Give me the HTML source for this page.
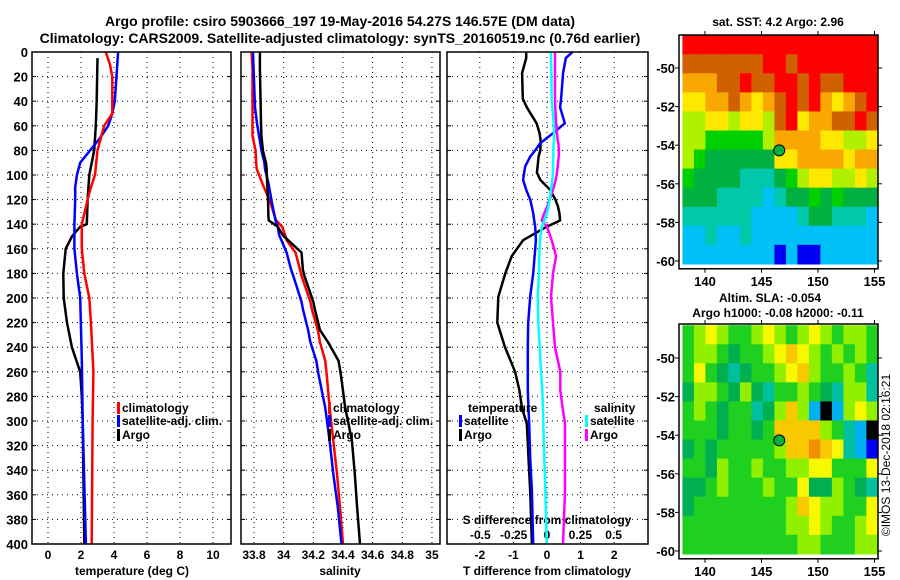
<!DOCTYPE html>
<html><head><meta charset="utf-8"><style>
html,body{margin:0;padding:0;background:#fff;}
svg{display:block;font-family:"Liberation Sans",sans-serif;font-weight:bold;}
</style></head><body>
<svg id="c" width="900" height="580" viewBox="0 0 900 580">
<text x="340" y="26" font-size="14" text-anchor="middle">Argo profile: csiro 5903666_197 19-May-2016 54.27S 146.57E (DM data)</text>
<text x="340" y="43" font-size="14" text-anchor="middle">Climatology: CARS2009. Satellite-adjusted climatology: synTS_20160519.nc (0.76d earlier)</text>
<text x="778" y="26" font-size="12" text-anchor="middle">sat. SST: 4.2 Argo: 2.96</text>
<text x="770" y="302" font-size="12" text-anchor="middle">Altim. SLA: -0.054</text>
<text x="778" y="317" font-size="12" text-anchor="middle">Argo h1000: -0.08 h2000: -0.11</text>
<text transform="translate(890,455) rotate(-90)" font-size="12" font-weight="normal" text-anchor="middle">©IMOS 13-Dec-2018 02:16:21</text>
<text x="132" y="575" font-size="12" text-anchor="middle">temperature (deg C)</text>
<text x="340" y="575" font-size="12" text-anchor="middle">salinity</text>
<text x="547" y="575" font-size="12" text-anchor="middle">T difference from climatology</text>
<text x="547" y="524" font-size="12" text-anchor="middle">S difference from climatology</text>
</svg>
<script>
// ---- data ----
const depthTArgo=[5,40,60,80,100,120,140,142,150,160,180,200,220,240,250,260,280,300,350,400];
const tempArgo=[3.0,2.95,2.9,2.8,2.5,2.4,2.35,1.95,1.45,1.07,0.93,0.95,1.15,1.45,1.7,1.95,2.05,2.1,2.15,2.2];
const depthTClim=[0,10,20,50,60,70,80,100,110,120,140,160,180,200,220,260,300,400];
const tempClim=[3.5,3.75,3.9,3.9,3.4,3.2,3.0,2.85,2.6,2.4,2.05,2.05,2.2,2.5,2.6,2.75,2.7,2.65];
const depthTSat=[0,40,50,60,70,80,90,100,110,120,140,160,180,200,250,300,400];
const tempSat=[4.25,4.05,3.9,3.65,3.15,2.55,1.95,1.75,1.65,1.65,1.6,1.6,1.75,1.95,2.05,2.1,2.3];
const depthS=[0,14,45,58,68,80,90,95,108,122,134,137,142,149,153,163,177,182,203,209,226,236,251,262,289,316,343,370,400];
const salArgo=[33.84,33.84,33.845,33.847,33.85,33.86,33.88,33.885,33.89,33.895,33.897,33.9,33.96,33.995,34.03,34.12,34.13,34.14,34.2,34.21,34.245,34.3,34.37,34.385,34.415,34.46,34.48,34.495,34.515];
const salClim=[33.784,33.79,33.79,33.79,33.79,33.81,33.815,33.818,33.86,33.91,33.94,33.95,33.99,34.01,34.02,34.08,34.11,34.12,34.18,34.19,34.23,34.245,34.28,34.29,34.31,34.335,34.36,34.38,34.40];
const salSat=[33.793,33.797,33.807,33.82,33.834,33.85,33.87,33.874,33.9,33.92,33.94,33.945,33.96,33.97,33.985,34.02,34.05,34.065,34.12,34.13,34.165,34.18,34.22,34.235,34.28,34.31,34.335,34.365,34.39];
const depthD=[0,5,17,38,45,58,66,72,74,80,85,93,98,104,112,120,126,131,137,142,153,166,180,199,220,240,260,275,290,302,330,357,400];
const dTArgo=[-0.62,-0.62,-0.74,-0.72,-0.6,-0.31,-0.22,-0.19,-0.19,-0.2,-0.25,-0.28,-0.3,-0.2,0.09,0.25,0.33,0.37,0.39,-0.01,-0.71,-1.05,-1.24,-1.45,-1.48,-1.25,-0.95,-0.82,-0.74,-0.6,-0.55,-0.5,-0.45];
const dTSat=[0.76,0.56,0.48,0.42,0.39,0.53,0.18,-0.1,-0.2,-0.35,-0.5,-0.65,-0.68,-0.71,-0.62,-0.5,-0.45,-0.41,-0.38,-0.35,-0.33,-0.37,-0.41,-0.5,-0.56,-0.57,-0.57,-0.57,-0.55,-0.53,-0.5,-0.45,-0.41];
const dSSat=[0.028,0.03,0.033,0.035,0.04,0.05,0.053,0.053,0.05,0.048,0.047,0.045,0.045,0.04,0.03,0.02,0.01,0.0,-0.02,-0.038,-0.053,-0.058,-0.06,-0.07,-0.065,-0.055,-0.045,-0.035,-0.03,-0.028,-0.02,-0.012,-0.002];
const dSArgo=[0.06,0.06,0.06,0.06,0.062,0.068,0.075,0.08,0.085,0.09,0.088,0.08,0.075,0.065,0.045,0.02,0.0,-0.02,-0.04,0.0,0.035,0.068,0.045,0.03,0.045,0.06,0.1,0.1,0.118,0.135,0.135,0.135,0.12];
const depthTicks=[0,20,40,60,80,100,120,140,160,180,200,220,240,260,280,300,320,340,360,380,400];
const tempTicks=[0,2,4,6,8,10];
const salTicks=[33.8,34,34.2,34.4,34.6,34.8,35];
const salTickLabels=["33.8","34","34.2","34.4","34.6","34.8","35"];
const dTTicks=[-2,-1,0,1,2];
const dSTicks=[-0.5,-0.25,0,0.25,0.5];
const lonTicks=[140,145,150,155];
const latTicks=[-50,-52,-54,-56,-58,-60];
const argoLon=146.57, argoLat=-54.27;
const sstGrid=[
[9,9,9,9,9,9,9,9,9,9,9,9,9,9,9,9,9],
[8,8,8,8,8,8,8,9,9,8,9,9,9,9,9,9,9],
[7,7,7,8,8,9,8,8,9,9,8,9,8,8,9,9,9],
[6,6,7,7,8,7,6,7,8,9,8,9,7,6,7,8,9],
[5,5,6,6,5,6,6,5,8,9,6,7,7,8,8,9,8],
[5,5,4,4,4,4,4,5,7,7,7,7,6,6,5,5,6],
[5,4,3,3,3,3,3,3,6,6,7,7,7,7,6,7,7],
[4,3,3,3,3,2,2,2,3,4,5,6,6,5,5,6,5],
[3,3,3,2,2,2,2,1,2,3,3,4,3,4,3,3,3],
[2,2,2,2,2,2,1,1,1,1,2,3,3,2,2,2,1],
[1,1,2,1,1,2,1,1,1,1,1,1,1,1,1,1,1],
[1,1,1,1,1,1,1,1,0,1,0,0,1,1,1,1,1]];
const slaGrid=[
[5,6,7,6,5,5,6,7,6,5,6,7,6,5,6,6,5],
[5,6,6,5,4,5,5,6,7,8,7,6,5,6,5,6,5],
[5,7,5,4,3,4,5,5,6,7,8,6,5,5,6,5,3],
[4,6,6,5,4,6,4,3,5,5,6,5,4,3,6,6,3],
[5,6,5,4,5,5,3,4,6,8,6,2,0,2,6,7,6],
[5,5,5,4,5,5,4,5,8,8,8,8,6,5,3,2,0],
[4,5,4,5,5,5,5,5,6,8,8,9,8,7,3,2,1],
[5,5,4,6,5,5,6,5,5,6,6,7,7,5,5,5,7],
[4,4,5,6,5,5,5,6,5,5,7,4,4,6,5,4,3],
[4,5,5,5,5,5,5,5,5,6,8,7,6,6,5,5,7],
[5,5,5,5,5,5,5,5,5,6,6,7,6,5,5,6,7],
[5,5,5,5,5,5,5,5,5,5,6,6,5,5,5,6,6]];
const sstPalette=["#0000f0","#00c0f8","#00c8a8","#00b040","#00d000","#b0f000","#ffe800","#f8a800","#d06000","#ff0000"];
const slaPalette=["#000000","#0000f0","#00b0f0","#00c0a0","#00b050","#20d020","#90f000","#f8f800","#f8c800","#f09000"];

// ---- scales ----
const svg=document.getElementById('c');
const NS='http://www.w3.org/2000/svg';
function mk(tag,attrs,parent){const e=document.createElementNS(NS,tag);for(const k in attrs)e.setAttribute(k,attrs[k]);(parent||svg).appendChild(e);return e;}
const Y0=52,Y1=544;
const yD=d=>Y0+(Y1-Y0)*d/400;
const xT=t=>48+16.5*t;
const xS=s=>254+(s-33.8)*148.3;
const xDT=t=>547+33.6*t;
const xDS=s=>547+133.3*s;
const panels=[{x0:32,x1:231,name:'temperature-panel'},{x0:241,x1:440,name:'salinity-panel'},{x0:447,x1:648,name:'difference-panel'}];
const panelTicks=[tempTicks.map(xT),salTicks.map(xS),dTTicks.map(xDT)];

panels.forEach((p,i)=>{
  const g=mk('g',{});
  
  
  depthTicks.slice(1,-1).forEach(d=>{
    const l=mk('line',{x1:p.x0,x2:p.x1,y1:yD(d),y2:yD(d),stroke:'#000','stroke-width':1,'stroke-dasharray':'1 4'},g);
    
    
    mk('line',{x1:p.x0,x2:p.x0+4,y1:yD(d),y2:yD(d),stroke:'#000'},g);
    mk('line',{x1:p.x1-4,x2:p.x1,y1:yD(d),y2:yD(d),stroke:'#000'},g);
  });
  panelTicks[i].forEach(x=>{
    const l=mk('line',{x1:x,x2:x,y1:Y0,y2:Y1,stroke:'#000','stroke-width':1,'stroke-dasharray':'1 4'},g);
    
    
  });
});
// y tick labels
depthTicks.forEach(d=>{
  const t=mk('text',{x:28,y:yD(d)+5,'font-size':13,'text-anchor':'end'});t.textContent=d;
  
  
});
tempTicks.forEach(v=>{const t=mk('text',{x:xT(v),y:559,'font-size':12,'text-anchor':'middle'});t.textContent=v;
  
  });
salTicks.forEach((v,i)=>{const t=mk('text',{x:xS(v),y:559,'font-size':12,'text-anchor':'middle'});t.textContent=salTickLabels[i];
  
  });
dTTicks.forEach(v=>{const t=mk('text',{x:xDT(v),y:559,'font-size':12,'text-anchor':'middle'});t.textContent=v;
  
  });
dSTicks.forEach(v=>{const t=mk('text',{x:xDS(v),y:539,'font-size':12,'text-anchor':'middle'});t.textContent=v;
  
  });

function line(xs,ds,fx,color,name){
  const pts=xs.map((v,i)=>fx(v).toFixed(1)+','+yD(ds[i]).toFixed(1)).join(' ');
  const l=mk('polyline',{points:pts,fill:'none',stroke:color,'stroke-width':2.5,'stroke-linejoin':'round'});
  
  
}
line(tempArgo,depthTArgo,xT,'#000','argo-temperature-line');
line(tempSat,depthTSat,xT,'#0000ff','satellite-temperature-line');
line(tempClim,depthTClim,xT,'#ff0000','climatology-temperature-line');
line(salClim,depthS,xS,'#ff0000','climatology-salinity-line');
line(salSat,depthS,xS,'#0000ff','satellite-salinity-line');
line(salArgo,depthS,xS,'#000','argo-salinity-line');
line(dTArgo,depthD,xDT,'#000','argo-t-difference-line');
line(dTSat,depthD,xDT,'#0000ff','satellite-t-difference-line');
line(dSArgo,depthD,xDS,'#ff00ff','argo-s-difference-line');
line(dSSat,depthD,xDS,'#00ffff','satellite-s-difference-line');

// frames
panels.forEach(p=>{mk('rect',{x:p.x0,y:Y0,width:p.x1-p.x0,height:Y1-Y0,fill:'none',stroke:'#000','stroke-width':1.5});});

// legends
function legend(x,y,color,label,name){
  const g=mk('g',{});
  
  
  if(color) mk('rect',{x:x,y:y-10,width:3,height:12,fill:color},g);
  const t=mk('text',{x:x+5,y:y,'font-size':12},g);t.textContent=label;
}
legend(117,412,'#ff0000','climatology','legend-climatology');
legend(117,425,'#0000ff','satellite-adj. clim.','legend-satellite-adj');
legend(117,439,'#000','Argo','legend-argo');
legend(328,412,'#ff0000','climatology','salinity-legend-climatology');
legend(328,425,'#0000ff','satellite-adj. clim.','salinity-legend-satellite-adj');
legend(328,439,'#000','Argo','salinity-legend-argo');
legend(463,412,null,'temperature','diff-legend-temperature-header');
legend(459,425,'#0000ff','satellite','diff-legend-t-satellite');
legend(459,439,'#000','Argo','diff-legend-t-argo');
legend(589,412,null,'salinity','diff-legend-salinity-header');
legend(585,425,'#00ffff','satellite','diff-legend-s-satellite');
legend(585,439,'#ff00ff','Argo','diff-legend-s-argo');

// maps
function map(grid,pal,yTop,latRef,name){
  const lonX=lon=>705+(lon-140)*11.3;
  const latY=lat=>latRef-(lat+50)*19.3;
  const g=mk('g',{});
  
  
  const nr=grid.length,nc=grid[0].length;
  const lat0=-48.3,lat1=-60.15,lon0=138,lon1=155.3;
  for(let r=0;r<nr;r++)for(let c=0;c<nc;c++){
    const la=lat0+(lat1-lat0)*r/nr, lb=lat0+(lat1-lat0)*(r+1)/nr;
    const oa=lon0+(lon1-lon0)*c/nc, ob=lon0+(lon1-lon0)*(c+1)/nc;
    const cell=mk('rect',{x:lonX(oa),y:latY(la),width:lonX(ob)-lonX(oa)+0.6,height:latY(lb)-latY(la)+0.6,fill:pal[grid[r][c]]},g);
    
    
  }
  mk('rect',{x:679,y:yTop,width:199,height:latY(-60.3)-yTop+2,fill:'none',stroke:'#000','stroke-width':1.5},g);
  const yB=latY(-60.3)+2;
  lonTicks.forEach(l=>{
    mk('line',{x1:lonX(l),x2:lonX(l),y1:yB,y2:yB+4,stroke:'#000'},g);
    mk('line',{x1:lonX(l),x2:lonX(l),y1:yTop,y2:yTop-4,stroke:'#000'},g);
    const t=mk('text',{x:lonX(l),y:yB+17,'font-size':13,'text-anchor':'middle'},g);t.textContent=l;
    
    
  });
  latTicks.forEach(l=>{
    mk('line',{x1:675,x2:679,y1:latY(l),y2:latY(l),stroke:'#000'},g);
    mk('line',{x1:878,x2:882,y1:latY(l),y2:latY(l),stroke:'#000'},g);
    const t=mk('text',{x:675,y:latY(l)+5,'font-size':13,'text-anchor':'end'},g);t.textContent=l;
    
    
  });
  const m=mk('circle',{cx:lonX(argoLon),cy:latY(argoLat),r:5.5,fill:'#00b040',stroke:'#000','stroke-width':1},g);
  
  
}
map(sstGrid,sstPalette,35,68,'sst-map');
map(slaGrid,slaPalette,324,358,'sla-map');
</script>
</body></html>
